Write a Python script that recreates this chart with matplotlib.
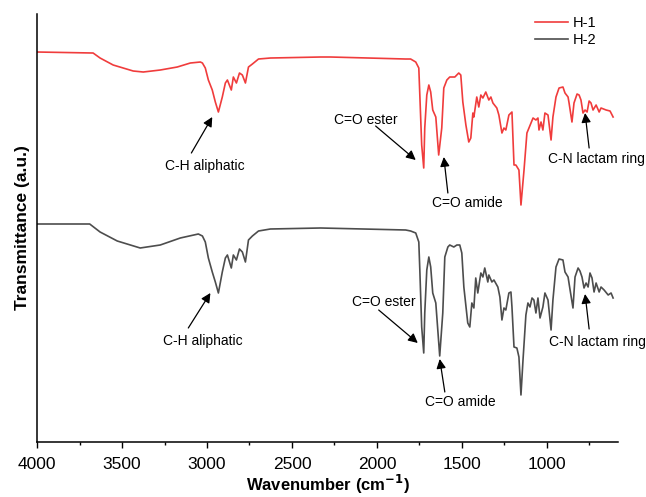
import matplotlib.pyplot as plt
import numpy as np

plt.rcParams['font.family'] = ['Liberation Sans', 'DejaVu Sans']

# H-1 spectrum (wavenumber, transmittance a.u.)
h1_wn = [4000, 3670, 3629, 3552, 3434, 3375, 3275, 3175, 3098, 3039, 3027, 3010,
         2992, 2969, 2951, 2933, 2910, 2892, 2880, 2857, 2845, 2827, 2809, 2792,
         2774, 2756, 2733, 2697, 2627, 2332, 2273, 1831, 1802, 1772, 1754, 1748,
         1737, 1725, 1719, 1707, 1695, 1684, 1672, 1654, 1637, 1619, 1607, 1589,
         1572, 1542, 1519, 1507, 1495, 1477, 1460, 1448, 1436, 1430, 1413, 1401,
         1389, 1377, 1360, 1342, 1330, 1318, 1295, 1283, 1265, 1253, 1242, 1224,
         1206, 1194, 1183, 1165, 1153, 1135, 1118, 1106, 1094, 1082, 1065, 1053,
         1047, 1035, 1024, 1012, 994, 976, 965, 947, 929, 906, 894, 876, 870, 853,
         841, 823, 811, 800, 788, 776, 764, 752, 741, 729, 711, 693, 682, 652,
         629, 611]
h1_t = [390, 389, 384, 377, 371, 370, 372, 375, 379, 380, 379, 374,
        362, 352, 340, 330, 345, 359, 362, 352, 365, 359, 369, 367,
        359, 375, 378, 383, 384, 385, 385, 383, 383, 380, 374, 347,
        297, 274, 314, 347, 357, 350, 332, 325, 287, 314, 354, 362,
        365, 365, 369, 367, 340, 317, 300, 304, 329, 325, 345, 335,
        347, 344, 350, 342, 345, 339, 334, 327, 309, 314, 312, 327,
        330, 277, 277, 272, 237, 272, 309, 314, 319, 324, 322, 324,
        312, 320, 312, 329, 327, 302, 325, 345, 354, 355, 349, 345, 339, 320,
        339, 348, 347, 342, 329, 332, 330, 341, 339, 332, 337, 330, 334, 332,
        331, 325]

# H-2 spectrum
h2_wn = [4000, 3690, 3629, 3528, 3393, 3275, 3157, 3051, 3027, 3010, 2992, 2969,
         2951, 2933, 2910, 2892, 2880, 2857, 2845, 2827, 2809, 2792, 2774, 2756,
         2733, 2697, 2627, 2332, 1831, 1802, 1772, 1754, 1748, 1737, 1725, 1719,
         1707, 1695, 1684, 1672, 1654, 1631, 1613, 1601, 1583, 1572, 1548, 1530,
         1513, 1501, 1489, 1466, 1454, 1442, 1430, 1419, 1407, 1389, 1377, 1366,
         1348, 1342, 1324, 1312, 1289, 1277, 1265, 1253, 1242, 1224, 1212, 1206,
         1194, 1177, 1165, 1153, 1141, 1124, 1112, 1100, 1088, 1077, 1065, 1053,
         1041, 1024, 1012, 994, 976, 965, 947, 929, 906, 894, 876, 864, 847, 835,
         817, 806, 794, 782, 770, 758, 747, 735, 723, 711, 693, 682, 664, 640,
         623, 611]
h2_t = [218, 218, 210, 201, 194, 197, 204, 208, 206, 200, 184, 170,
        160, 149, 170, 184, 187, 174, 187, 182, 193, 190, 180, 202,
        206, 211, 213, 214, 212, 211, 209, 200, 172, 115, 89, 129,
        172, 185, 175, 149, 139, 86, 129, 185, 195, 197, 195, 197,
        197, 189, 155, 119, 115, 139, 134, 164, 149, 169, 165, 174,
        160, 167, 160, 162, 155, 145, 122, 134, 132, 149, 150, 135,
        95, 94, 85, 47, 82, 127, 139, 135, 144, 142, 129, 144,
        124, 135, 149, 142, 112, 142, 175, 183, 182, 170, 165, 152, 134, 165,
        174, 171, 165, 154, 159, 155, 169, 164, 150, 159, 150, 155, 152, 147,
        149, 144]

labels = ["C-H aliphatic", "C=O ester", "C=O amide", "C-N lactam ring"]
# (text position, arrow tail, arrow tip) for each curve
h1_notes = [((3010, 276), (3092, 289), (2969, 325)),
            ((2067, 322), (2008, 316), (1772, 282)),
            ((1466, 239), (1583, 249), (1607, 285)),
            ((711, 283), (752, 294), (776, 329))]
h2_notes = [((3022, 101), (3110, 114), (2980, 149)),
            ((1961, 140), (1990, 132), (1760, 99)),
            ((1507, 40), (1601, 50), (1631, 83)),
            ((705, 100), (752, 113), (776, 148))]

fig = plt.figure(figsize=(6.46, 4.97), dpi=100)
ax = fig.add_axes([0.0573, 0.1107, 0.8994, 0.8611])

ax.plot(h1_wn, h1_t, color='#f03c3c', lw=1.2, label='H-1')
ax.plot(h2_wn, h2_t, color='#4d4d4d', lw=1.2, label='H-2')

for notes in (h1_notes, h2_notes):
    for lab, (txt, tail, tip) in zip(labels, notes):
        ax.text(txt[0], txt[1], lab, ha='center', va='center', fontsize=10)
        ax.annotate("", xy=tip, xytext=tail,
                    arrowprops=dict(arrowstyle='-|>', color='black', lw=0.9,
                                    mutation_scale=14, shrinkA=0, shrinkB=0))

ax.set_xlim(4000, 582)
ax.set_ylim(0, 428)
ax.set_xticks([4000, 3500, 3000, 2500, 2000, 1500, 1000])
ax.set_xticks(np.arange(3750, 582, -500), minor=True)
ax.set_yticks([])
for s in ('top', 'right'):
    ax.spines[s].set_visible(False)
for s in ('left', 'bottom'):
    ax.spines[s].set_linewidth(1.1)
ax.tick_params(axis='x', which='major', direction='out', length=4.5, width=1.0,
               labelsize=12.5, pad=6)
ax.tick_params(axis='x', which='minor', direction='out', length=2.5, width=1.0)

ax.set_xlabel('Wavenumber (cm$^{\\mathbf{-1}}$)', fontsize=12, fontweight='bold', labelpad=1)
ax.set_ylabel('Transmittance (a.u.)', fontsize=12.5, fontweight='bold', labelpad=5)

ax.legend(loc='upper right', bbox_to_anchor=(0.985, 1.025), frameon=False, fontsize=10.5,
          handlelength=2.3, handletextpad=0.3, labelspacing=0.15)

fig.savefig('out.png', dpi=100)
